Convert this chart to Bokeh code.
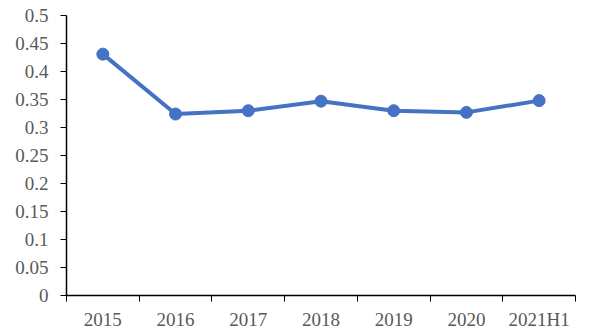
from bokeh.plotting import figure
from bokeh.models import Range1d, FixedTicker
from bokeh.embed import file_html
from bokeh.resources import INLINE

categories = ["2015", "2016", "2017", "2018", "2019", "2020", "2021H1"]
values = [0.431, 0.324, 0.330, 0.347, 0.330, 0.327, 0.348]
y_ticks = [0, 0.05, 0.1, 0.15, 0.2, 0.25, 0.3, 0.35, 0.4, 0.45, 0.5]
y_tick_labels = ["0", "0.05", "0.1", "0.15", "0.2", "0.25", "0.3", "0.35", "0.4", "0.45", "0.5"]

xs = [i + 0.5 for i in range(len(categories))]

p = figure(width=600, height=333, output_backend="svg", toolbar_location=None,
           x_range=Range1d(0, len(categories)), y_range=Range1d(0, 0.5),
           min_border_left=66, min_border_right=25, min_border_top=15, min_border_bottom=38)
p.outline_line_color = None
p.grid.visible = False
p.background_fill_color = "white"
p.border_fill_color = "white"

p.line(xs, values, line_color="#4472C4", line_width=4)
p.scatter(xs, values, size=12, fill_color="#4472C4", line_color="#4472C4")

font = "Liberation Serif"
xa = p.xaxis[0]
xa.ticker = FixedTicker(ticks=xs, minor_ticks=list(range(len(categories) + 1)))
xa.major_label_overrides = {x: c for x, c in zip(xs, categories)}
xa.major_tick_line_color = None
xa.minor_tick_in = 0
xa.minor_tick_out = 6
xa.minor_tick_line_color = "black"
xa.minor_tick_line_width = 1
xa.axis_line_color = "black"
xa.axis_line_width = 1.5
xa.major_label_standoff = 7
xa.major_label_text_font = font
xa.major_label_text_font_size = "19px"
xa.major_label_text_color = "#595959"

ya = p.yaxis[0]
ya.ticker = FixedTicker(ticks=y_ticks)
ya.major_label_overrides = {t: l for t, l in zip(y_ticks, y_tick_labels)}
ya.minor_tick_line_color = None
ya.major_tick_in = 0
ya.major_tick_out = 6
ya.major_tick_line_color = "black"
ya.axis_line_color = "black"
ya.axis_line_width = 1.5
ya.major_label_standoff = 12
ya.major_label_text_font = font
ya.major_label_text_font_size = "19px"
ya.major_label_text_color = "#595959"

open("out.html", "w").write(file_html(p, INLINE))
